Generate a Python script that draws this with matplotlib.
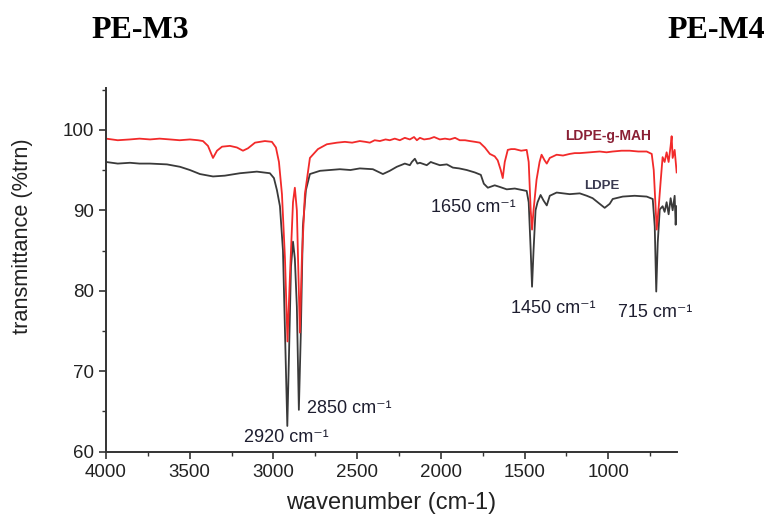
import numpy as np
import matplotlib
matplotlib.use("Agg")
import matplotlib.pyplot as plt
from matplotlib.ticker import MultipleLocator

plt.rcParams['font.family'] = ['Liberation Sans', 'DejaVu Sans']

# FTIR spectrum of LDPE-g-MAH (wavenumber cm-1, transmittance %)
wn_mah = [4000, 3930, 3857, 3800, 3737, 3680, 3618, 3560, 3499, 3450, 3421, 3391, 3361, 3337,
          3307, 3260, 3218, 3182, 3152, 3110, 3051, 3009, 2985, 2967, 2949, 2931, 2916,
          2901, 2883, 2872, 2860, 2842, 2830, 2812, 2782, 2734, 2681, 2620, 2573, 2530,
          2484, 2450, 2424, 2395, 2364, 2330, 2305, 2275, 2245, 2215, 2185, 2160, 2143,
          2125, 2100, 2066, 2040, 2006, 1975, 1946, 1915, 1887, 1855, 1827, 1795, 1767,
          1737, 1707, 1678, 1660, 1642, 1630, 1618, 1600, 1580, 1558, 1520, 1487, 1475,
          1463, 1455, 1446, 1428, 1410, 1398, 1380, 1367, 1349, 1308, 1270, 1230, 1200,
          1170, 1110, 1051, 1010, 973, 920, 872, 820, 770, 740, 728, 716, 710, 698, 687,
          675, 663, 651, 639, 627, 621, 615, 603, 591]
tr_mah = [98.9, 98.7, 98.8, 98.9, 98.8, 98.9, 98.8, 98.7, 98.8, 98.7, 98.6, 98.0, 96.5, 97.4,
          97.9, 98.0, 97.8, 97.4, 97.7, 98.4, 98.6, 98.5, 97.8, 96.0, 92.0, 84.0, 73.7,
          82.0, 91.0, 92.8, 90.0, 74.8, 84.0, 92.0, 96.5, 97.6, 98.2, 98.4, 98.5, 98.4,
          98.6, 98.5, 98.4, 98.7, 98.6, 98.8, 98.7, 98.9, 98.7, 99.0, 98.8, 99.1, 98.7,
          99.0, 98.8, 98.9, 99.1, 98.8, 98.9, 98.8, 99.0, 98.7, 98.7, 98.6, 98.5, 98.4,
          97.8, 97.0, 96.7, 96.2, 95.0, 94.0, 96.0, 97.5, 97.6, 97.6, 97.4, 97.5, 96.0,
          90.0, 87.6, 90.0, 93.8, 96.0, 96.9, 96.2, 95.8, 96.5, 96.9, 96.8, 97.0, 97.1,
          97.1, 97.2, 97.3, 97.2, 97.3, 97.4, 97.4, 97.3, 97.3, 97.0, 95.0, 90.0, 87.6,
          90.5, 93.5, 96.6, 96.0, 97.2, 96.0, 98.0, 99.2, 96.5, 97.5, 94.7]

# FTIR spectrum of neat LDPE
wn_ldpe = [4000, 3930, 3857, 3800, 3737, 3636, 3558, 3499, 3439, 3361, 3290, 3200, 3099, 3021,
           2997, 2979, 2961, 2943, 2931, 2917, 2907, 2895, 2883, 2872, 2860, 2848, 2836,
           2824, 2806, 2782, 2722, 2603, 2540, 2484, 2406, 2346, 2305, 2263, 2215, 2185,
           2173, 2155, 2140, 2125, 2084, 2060, 2048, 2006, 1964, 1928, 1890, 1845, 1797,
           1761, 1743, 1719, 1678, 1648, 1606, 1558, 1487, 1475, 1463, 1455, 1446, 1434,
           1422, 1404, 1386, 1367, 1349, 1308, 1230, 1170, 1128, 1093, 1051, 1021, 991,
           973, 913, 842, 770, 734, 722, 713, 704, 692, 675, 663, 651, 639, 627, 615,
           603, 597, 591]
tr_ldpe = [96.0, 95.8, 95.9, 95.8, 95.8, 95.7, 95.4, 95.0, 94.5, 94.2, 94.3, 94.6, 94.8, 94.6,
           94.0, 92.5, 90.5, 85.0, 75.0, 63.2, 72.0, 83.0, 86.1, 84.0, 78.0, 65.2, 75.0,
           88.0, 92.5, 94.5, 94.9, 95.1, 95.0, 95.2, 95.1, 94.5, 94.9, 95.4, 95.8, 95.6,
           96.0, 96.4, 95.8, 95.9, 95.6, 96.0, 95.9, 95.6, 95.7, 95.3, 95.2, 95.0, 94.7,
           94.4, 93.3, 92.8, 93.1, 92.9, 92.6, 92.7, 92.4, 91.0, 85.0, 80.5, 85.0, 90.0,
           91.0, 91.9, 91.2, 90.6, 91.8, 92.2, 92.0, 92.1, 91.8, 91.5, 90.8, 90.3, 90.8,
           91.4, 91.7, 91.8, 91.7, 91.4, 88.0, 79.9, 86.0, 90.1, 90.5, 89.8, 91.0, 89.5,
           91.5, 90.0, 91.8, 88.2, 90.5]

# peak labels: text, x, y (data units)
peak_text = ['2920 cm⁻¹', '2850 cm⁻¹', '1650 cm⁻¹', '1450 cm⁻¹', '715 cm⁻¹']
peak_x = [2925, 2549, 1803, 1331, 717]
peak_y = [61.8, 65.4, 90.35, 77.75, 77.3]

fig = plt.figure(figsize=(7.7, 5.16), dpi=100)
ax = fig.add_axes([0.1377, 0.1246, 0.7413, 0.705])

ax.plot(wn_ldpe, tr_ldpe, color='#3a3a3a', lw=1.3)
ax.plot(wn_mah, tr_mah, color='#f22a2a', lw=1.3)

for txt, x, y in zip(peak_text, peak_x, peak_y):
    ax.text(x, y, txt, ha='center', va='center', fontsize=13, color='#1e1e30')

ax.text(1003, 99.2, 'LDPE-g-MAH', ha='center', va='center', fontsize=10,
        fontweight='bold', color='#8a2035')
ax.text(1039, 93.0, 'LDPE', ha='center', va='center', fontsize=9.5,
        fontweight='bold', color='#3a3a50')

ax.set_xlim(4000, 590)
ax.set_ylim(60, 105.2)
ax.xaxis.set_minor_locator(MultipleLocator(250))
ax.yaxis.set_minor_locator(MultipleLocator(5))
ax.set_xticks([4000, 3500, 3000, 2500, 2000, 1500, 1000])
ax.set_yticks([60, 70, 80, 90, 100])

for side in ['top', 'right']:
    ax.spines[side].set_visible(False)
for side in ['left', 'bottom']:
    ax.spines[side].set_linewidth(1.4)
    ax.spines[side].set_color('#333333')
ax.tick_params(which='major', direction='out', length=5, width=1.2, colors='#333333',
               labelsize=13.5, labelcolor='#222222')
ax.tick_params(which='minor', direction='out', length=3, width=1.0, colors='#333333')

ax.set_xlabel('wavenumber (cm-1)', fontsize=17, color='#222222', labelpad=8)
ax.set_ylabel('transmittance (%trn)', fontsize=15.7, color='#222222')
ax.yaxis.set_label_coords(-0.128, 0.592)

fig.text(0.182, 0.94, 'PE-M3', ha='center', va='center', fontsize=23,
         fontweight='bold', family='Liberation Serif')
fig.text(0.93, 0.94, 'PE-M4', ha='center', va='center', fontsize=23,
         fontweight='bold', family='Liberation Serif')

fig.savefig('out.png', dpi=100)
